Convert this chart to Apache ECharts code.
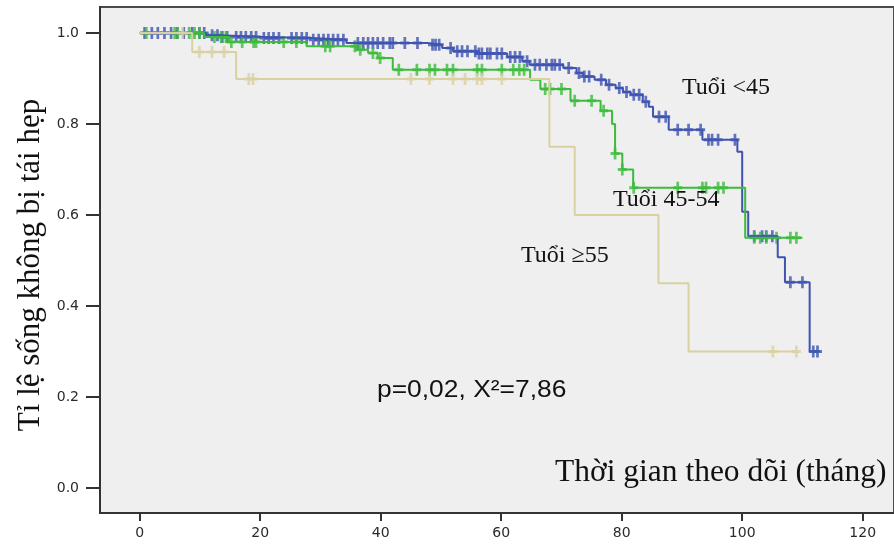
<!DOCTYPE html>
<html>
<head>
<meta charset="utf-8">
<script src="https://cdn.jsdelivr.net/npm/echarts@6/dist/echarts.min.js"></script>
<style>
  html, body { margin: 0; padding: 0; background: #ffffff; }
  #chart { width: 894px; height: 547px; }
</style>
</head>
<body>
<div id="chart"></div>
<script>
// Kaplan-Meier estimates: event times (months) and survival after each event
const blueTimes = [0, 11, 13.2, 20.6, 28.5, 34.3, 47.8, 50.2, 52, 56, 61, 63.5, 64.7, 70.3, 72.5, 73.6, 75.5, 77.4, 79, 80.2, 81.5, 83.5, 84.5, 85.2, 87.8, 93.4, 99.2, 100, 101, 105.9, 107.1, 111.2];
const blueSurv  = [1, 0.995, 0.991, 0.989, 0.985, 0.978, 0.974, 0.967, 0.96, 0.955, 0.947, 0.938, 0.930, 0.923, 0.912, 0.904, 0.897, 0.886, 0.879, 0.870, 0.864, 0.849, 0.838, 0.816, 0.787, 0.765, 0.739, 0.607, 0.553, 0.507, 0.452, 0.30];
const blueEnd = 112.9;
const blueCensor = [0.8, 2, 3, 4.1, 5.2, 6.2, 7.3, 8.7, 9.9, 10.7, 12, 12.9, 13.7, 14.5, 16, 16.8, 17.6, 18.5, 19.3, 20.6, 21.4, 22.2, 23.1, 25.2, 26, 26.9, 27.7, 28.8, 29.7, 30.5, 31.3, 32.1, 32.9, 33.8, 36.2, 37.1, 37.9, 38.7, 39.5, 40.4, 41.5, 42, 44, 46.1, 48.6, 49.1, 49.7, 51.6, 52.7, 53.5, 54.4, 55.7, 56.3, 56.8, 57.7, 58.2, 59.3, 60.1, 61.5, 62.3, 63.1, 64.3, 65.6, 66.4, 67.5, 68.4, 68.9, 69.7, 71.2, 72.9, 73.8, 74.6, 76.6, 77.9, 79.6, 80.8, 82, 82.9, 84, 86.2, 87.3, 89.3, 91.1, 93.1, 94.4, 95, 96, 98.8, 102, 103.3, 104, 105, 108, 110, 111.8, 112.5];

const greenTimes = [0, 10.7, 14.8, 27.7, 35.9, 37.9, 39.5, 42, 64.8, 66.5, 71.5, 76.5, 78.4, 78.9, 80.1, 81.9, 100.5];
const greenSurv  = [1, 0.991, 0.980, 0.971, 0.963, 0.956, 0.945, 0.919, 0.897, 0.877, 0.851, 0.829, 0.80, 0.735, 0.70, 0.66, 0.55];
const greenEnd = 110;
const greenCensor = [1.1, 5.8, 6.3, 8.2, 9.1, 9.9, 12.4, 13.5, 14.3, 15.2, 17, 18.9, 19.3, 23.9, 26, 30.8, 31.6, 35.7, 36.6, 38.7, 39.9, 43, 46, 48.1, 49, 51, 52, 56, 56.8, 60.1, 62, 63, 63.8, 67.3, 68.1, 70, 72.2, 75, 77, 78.9, 80.1, 82, 89.3, 93.4, 94, 96, 96.9, 102, 103, 104, 105.7, 108, 109];

const tanTimes = [0, 8.7, 16, 68, 72.2, 86.1, 91.1];
const tanSurv  = [1, 0.958, 0.899, 0.75, 0.60, 0.45, 0.30];
const tanEnd = 109;
const tanCensor = [7.1, 9.9, 12, 14, 18.1, 18.8, 45, 48.1, 52, 54, 56, 56.8, 60.1, 105.1, 109];

const xTicks = [0, 20, 40, 60, 80, 100, 120];
const yTicks = [0, 0.2, 0.4, 0.6, 0.8, 1.0];

const groupNames = ['Tuổi <45', 'Tuổi 45-54', 'Tuổi ≥55'];
const statText = 'p=0,02, X²=7,86';
const xTitle = 'Thời gian theo dõi (tháng)';
const yTitle = 'Tỉ lệ sống không bị tái hẹp';

const COLORS = { blue: '#3f53b0', green: '#3cbb3c', tan: '#d9d1a1' };
// censoring tick: a plus sign
const PLUS = 'path://M3.5,0h3v4.5h3.5v3h-3.5v4.5h-3v-4.5h-3.5v-3h3.5z';

function stepData(times, surv, end) {
  const d = times.map((t, i) => [t, surv[i]]);
  d.push([end, surv[surv.length - 1]]);
  return d;
}
function survAt(times, surv, t) {
  let s = surv[0];
  for (let i = 0; i < times.length; i++) if (times[i] <= t) s = surv[i];
  return s;
}
function censorData(cens, times, surv) {
  return cens.map(t => [t, survAt(times, surv, t)]);
}
function groupSeries(name, times, surv, end, cens, color) {
  return [
    { name: name, type: 'line', step: 'end', data: stepData(times, surv, end),
      showSymbol: false, silent: true, lineStyle: { color: color, width: 2 } },
    { name: name, type: 'scatter', data: censorData(cens, times, surv), silent: true,
      symbol: PLUS, symbolSize: [9, 12], itemStyle: { color: color } }
  ];
}

const chart = echarts.init(document.getElementById('chart'), null, { renderer: 'canvas' });
const axisFont = { fontFamily: 'DejaVu Sans', fontSize: 14, color: '#2a2a2a' };

chart.setOption({
  animation: false,
  backgroundColor: '#ffffff',
  grid: { left: 100, top: 7, width: 800, height: 506, show: true,
          backgroundColor: '#efefef', borderColor: '#4a4a4a', borderWidth: 2 },
  xAxis: {
    type: 'value', min: -6.6, max: 125.2,
    axisLine: { show: true, onZero: false, lineStyle: { color: '#333', width: 2 } },
    axisTick: { show: true, length: 8, customValues: xTicks, lineStyle: { color: '#333', width: 2 } },
    axisLabel: Object.assign({ customValues: xTicks, margin: 13 }, axisFont),
    splitLine: { show: false }
  },
  yAxis: {
    type: 'value', min: -0.055, max: 1.057,
    axisLine: { show: true, onZero: false, lineStyle: { color: '#333', width: 2 } },
    axisTick: { show: true, length: 14, customValues: yTicks, lineStyle: { color: '#333', width: 2 } },
    axisLabel: Object.assign({ customValues: yTicks, margin: 21,
      formatter: v => v.toFixed(1) }, axisFont),
    splitLine: { show: false }
  },
  series: [].concat(
    groupSeries(groupNames[0], blueTimes, blueSurv, blueEnd, blueCensor, COLORS.blue),
    groupSeries(groupNames[1], greenTimes, greenSurv, greenEnd, greenCensor, COLORS.green),
    groupSeries(groupNames[2], tanTimes, tanSurv, tanEnd, tanCensor, COLORS.tan)
  ),
  graphic: [
    { type: 'text', left: 682, top: 76, z: 100, silent: true,
      style: { text: groupNames[0], font: '24px "Liberation Serif"', fill: '#111' } },
    { type: 'text', left: 613, top: 188, z: 100, silent: true,
      style: { text: groupNames[1], font: '24px "Liberation Serif"', fill: '#111' } },
    { type: 'text', left: 521, top: 244, z: 100, silent: true,
      style: { text: groupNames[2], font: '24px "Liberation Serif"', fill: '#111' } },
    { type: 'text', x: 377, y: 390, scaleX: 1.1, z: 100, silent: true,
      style: { text: statText, font: '24px "Liberation Sans"', fill: '#111',
               align: 'left', verticalAlign: 'middle' } },
    { type: 'text', left: 555, top: 457, z: 100, silent: true,
      style: { text: xTitle, font: '31.5px "Liberation Serif"', fill: '#111' } },
    { type: 'text', x: 31, y: 265, rotation: Math.PI / 2, z: 100, silent: true,
      style: { text: yTitle, font: '31px "Liberation Serif"', fill: '#111',
               align: 'center', verticalAlign: 'middle' } }
  ]
});
</script>
</body>
</html>
